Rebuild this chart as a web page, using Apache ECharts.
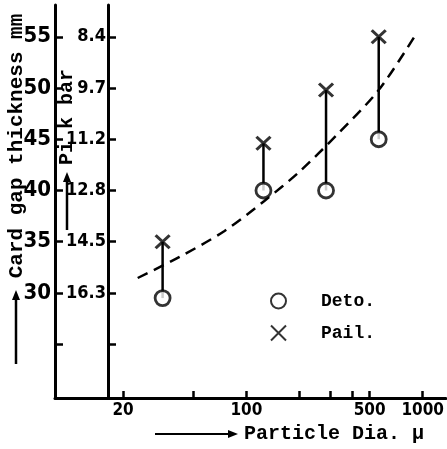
<!DOCTYPE html>
<html>
<head>
<meta charset="utf-8">
<script src="https://cdn.jsdelivr.net/npm/echarts@6/dist/echarts.min.js"></script>
<style>
html,body{margin:0;padding:0;background:#fff;}
#chart{width:447px;height:449px;}
</style>
</head>
<body>
<div id="chart"></div>
<script>
// particle dia (micron) vs card gap (mm)
var detoX = [33.5, 125, 283, 563];
var detoY = [29.5, 40, 40, 45];
var pailY = [35, 44.6, 49.8, 55];
// dashed trend line
var curveX = [24.2, 41.8, 75.2, 126.4, 199, 326, 564, 912];
var curveY = [31.46, 33.52, 36.05, 38.98, 41.8, 45.43, 49.82, 55.2];
// axis ticks / labels
var gapTicks = [25, 30, 35, 40, 45, 50, 55];
var gapLabels = [30, 35, 40, 45, 50, 55];
var pikLabels = ['16.3', '14.5', '12.8', '11.2', '9.7', '8.4'];
var diaTicks = [20, 50, 100, 200, 300, 400, 500, 1000];
var diaLabels = [20, 100, 500, 1000];

var crossPath = 'path://M0,0L10,10M10,0L0,10';
var monoFont = '"Liberation Mono", "DejaVu Sans Mono", monospace';
var numFont = '"Liberation Sans Narrow", "DejaVu Sans Condensed", "DejaVu Sans", sans-serif';

var myChart = echarts.init(document.getElementById('chart'));
myChart.setOption({
  animation: false,
  backgroundColor: '#fff',
  grid: {left: 55, right: 0, top: 5, bottom: 51, containLabel: false},
  xAxis: {
    type: 'log',
    min: 8.22,
    max: 1350,
    axisLine: {lineStyle: {color: '#000', width: 3}},
    axisTick: {inside: true, length: 7, customValues: diaTicks, lineStyle: {color: '#000', width: 2.5}},
    axisLabel: {
      customValues: diaLabels, color: '#000', fontFamily: numFont, fontWeight: 'bold', fontSize: 17, margin: 4,
      formatter: function (v) { return String(Math.round(v)); }
    },
    splitLine: {show: false}
  },
  yAxis: [
    {
      type: 'value',
      min: 19.75,
      max: 58.1,
      axisLine: {show: true, lineStyle: {color: '#000', width: 3}},
      axisTick: {show: true, inside: true, length: 8, customValues: gapTicks, lineStyle: {color: '#000', width: 2.5}},
      axisLabel: {customValues: gapLabels, color: '#000', fontFamily: numFont, fontWeight: 'bold', fontSize: 22, margin: 4},
      splitLine: {show: false}
    },
    {
      type: 'value',
      position: 'left',
      offset: -53,
      min: 19.75,
      max: 58.1,
      axisLine: {show: true, lineStyle: {color: '#000', width: 3}},
      axisTick: {show: true, inside: true, length: 8, customValues: gapTicks, lineStyle: {color: '#000', width: 2.5}},
      axisLabel: {
        customValues: gapLabels, color: '#000', fontFamily: numFont, fontWeight: 'bold', fontSize: 18, margin: 2,
        formatter: function (v) { return pikLabels[gapLabels.indexOf(v)]; }
      },
      splitLine: {show: false}
    }
  ],
  legend: {
    orient: 'vertical',
    left: 265,
    top: 287,
    itemWidth: 15,
    itemHeight: 15,
    itemGap: 14,
    data: [{name: 'Deto.', icon: 'circle'}, {name: 'Pail.', icon: crossPath}],
    textStyle: {color: '#000', fontFamily: monoFont, fontWeight: 'bold', fontSize: 18, padding: [0, 0, 0, 30]}
  },
  series: [
    {
      type: 'custom',
      silent: true,
      z: 1,
      data: detoX.map(function (x, i) { return [x, detoY[i], pailY[i]]; }),
      encode: {x: 0, y: [1, 2]},
      renderItem: function (params, api) {
        var p1 = api.coord([api.value(0), api.value(1)]);
        var p2 = api.coord([api.value(0), api.value(2)]);
        return {type: 'line', shape: {x1: p1[0], y1: p1[1], x2: p2[0], y2: p2[1]}, style: {stroke: '#000', lineWidth: 2.5}};
      }
    },
    {
      type: 'line',
      smooth: 0.3,
      showSymbol: false,
      silent: true,
      z: 1,
      data: curveX.map(function (x, i) { return [x, curveY[i]]; }),
      lineStyle: {color: '#000', width: 2.5, type: [11, 7]}
    },
    {
      name: 'Deto.',
      type: 'scatter',
      z: 3,
      symbol: 'circle',
      symbolSize: 15,
      data: detoX.map(function (x, i) { return [x, detoY[i]]; }),
      itemStyle: {color: '#fff', borderColor: '#000', borderWidth: 2.8}
    },
    {
      name: 'Pail.',
      type: 'scatter',
      z: 3,
      symbol: crossPath,
      symbolSize: [14, 13],
      data: detoX.map(function (x, i) { return [x, pailY[i]]; }),
      itemStyle: {color: 'transparent', borderColor: '#000', borderWidth: 3}
    }
  ],
  graphic: [
    {type: 'text', x: 17, y: 146, rotation: Math.PI / 2,
      style: {text: 'Card gap thickness mm', fill: '#000', font: 'bold 21px ' + monoFont, align: 'center', verticalAlign: 'middle'}},
    {type: 'line', shape: {x1: 16, y1: 364, x2: 16, y2: 298}, style: {stroke: '#000', lineWidth: 2.5}},
    {type: 'polygon', shape: {points: [[12, 300], [20, 300], [16, 290]]}, style: {fill: '#000'}},
    {type: 'text', x: 67, y: 117, rotation: Math.PI / 2,
      style: {text: 'Pi k bar', fill: '#000', font: 'bold 20px ' + monoFont, align: 'center', verticalAlign: 'middle'}},
    {type: 'line', shape: {x1: 67, y1: 230, x2: 67, y2: 180}, style: {stroke: '#000', lineWidth: 2.5}},
    {type: 'polygon', shape: {points: [[63, 182], [71, 182], [67, 172]]}, style: {fill: '#000'}},
    {type: 'line', shape: {x1: 155, y1: 434, x2: 230, y2: 434}, style: {stroke: '#000', lineWidth: 2}},
    {type: 'polygon', shape: {points: [[228, 430], [228, 438], [238, 434]]}, style: {fill: '#000'}},
    {type: 'text', x: 244, y: 434,
      style: {text: 'Particle Dia. \u03bc', fill: '#000', font: 'bold 20px ' + monoFont, align: 'left', verticalAlign: 'middle'}}
  ]
});
</script>
</body>
</html>
